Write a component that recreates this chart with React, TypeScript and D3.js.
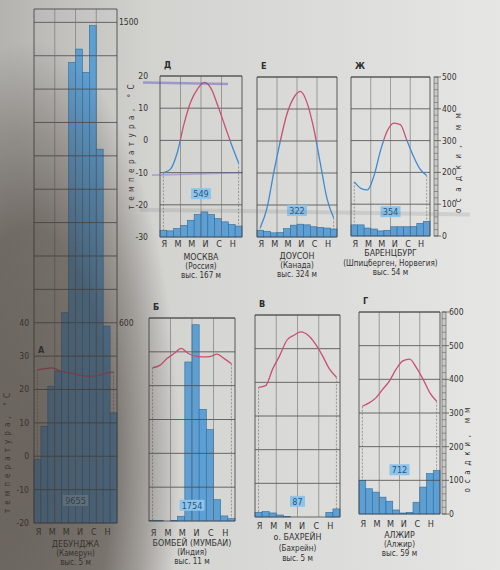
import React, { useEffect, useRef } from 'react';
import * as d3 from 'd3';

// month ticks shown under each diagram (odd months only)
const monthTicks = ['Я', 'М', 'М', 'И', 'С', 'Н'];

// station captions
const letters = ['А', 'Д', 'Е', 'Ж', 'Б', 'В', 'Г'];
const stations = ['ДЕБУНДЖА', 'МОСКВА', 'ДОУСОН', 'БАРЕНЦБУРГ', 'БОМБЕЙ (МУМБАИ)', 'о. БАХРЕЙН', 'АЛЖИР'];
const countries = ['(Камерун)', '(Россия)', '(Канада)', '(Шпицберген, Норвегия)', '(Индия)', '(Бахрейн)', '(Алжир)'];
const heights = ['выс. 5 м', 'выс. 167 м', 'выс. 324 м', 'выс. 54 м', 'выс. 11 м', 'выс. 5 м', 'выс. 59 м'];
const totals = ['9655', '549', '322', '354', '1754', '87', '712'];

// mean monthly temperature, °C
const debTemp = [25.9, 26.2, 26.5, 25.8, 25.2, 24.8, 24.3, 24, 24, 24.3, 25, 25.2];
const mosTemp = [-10, -9, -4, 5, 12, 16, 18, 16, 10.5, 4.5, -1.5, -7];
const dawTemp = [-27, -21, -10, 0, 8.5, 13.5, 15.5, 12, 4, -7, -18, -24];
const barTemp = [-13, -15, -15.5, -11, -3, 3, 5.5, 5, 0, -5, -9, -11];
const bomTemp = [25.3, 26, 28, 29.5, 31, 29.5, 28.7, 28.5, 28.6, 29.3, 28, 26.5];
const bahTemp = [18.5, 19, 24, 28, 32.5, 34, 35, 34, 31.5, 28, 24, 21.5];
const algTemp = [12, 13, 14.5, 17, 19.5, 23, 25.5, 26, 23.5, 20, 16, 13.5];

// monthly precipitation, mm
const debPrecip = [190, 290, 410, 455, 630, 1380, 1420, 1350, 1490, 1120, 590, 330];
const mosPrecip = [21, 19, 26, 36, 52, 70, 78, 70, 57, 47, 39, 34];
const dawPrecip = [21, 18, 13, 14, 26, 37, 40, 38, 32, 30, 28, 25];
const barPrecip = [35, 35, 25, 22, 16, 18, 29, 29, 29, 30, 40, 46];
const bomPrecip = [2, 1, 0, 2, 14, 470, 580, 330, 270, 63, 15, 7];
const bahPrecip = [14, 16, 12, 6, 1, 0, 0, 0, 0, 0, 14, 24];
const algPrecip = [100, 75, 65, 50, 38, 12, 3, 5, 35, 80, 120, 129];

const FONT = "'Liberation Sans Narrow', 'DejaVu Sans Condensed', Arial, sans-serif";
const RED = '#c9506f';
const BLUE = '#3d8bd0';

// page layout of the seven diagrams (photo is slightly tilted, so each has its own box)
const layout = [
  { x0: 34, x1: 117, top: 9, bottom: 523, pTop: 1540, tMin: -20, boxMm: 66, textY: [535, 547, 556, 565] },
  { x0: 160, x1: 242, top: 76, bottom: 237, pTop: 500, tMin: -30, boxMm: 133, textY: [247, 260, 269, 278] },
  { x0: 257, x1: 337, top: 77, bottom: 237, pTop: 500, tMin: -30, boxMm: 81, textY: [247, 259, 268, 277] },
  { x0: 351, x1: 430, top: 77, bottom: 236, pTop: 500, tMin: -30, boxMm: 75, textY: [247, 256, 265.5, 275] },
  { x0: 149, x1: 235, top: 318, bottom: 521, pTop: 600, tMin: -20, boxMm: 45, textY: [536, 546, 555, 564] },
  { x0: 255, x1: 340, top: 315, bottom: 517, pTop: 600, tMin: -20, boxMm: 45, textY: [529, 540, 551, 561] },
  { x0: 359, x1: 440, top: 312, bottom: 514, pTop: 600, tMin: -20, boxMm: 130, textY: [527, 538, 547, 556] },
];

const temps = [debTemp, mosTemp, dawTemp, barTemp, bomTemp, bahTemp, algTemp];
const precips = [debPrecip, mosPrecip, dawPrecip, barPrecip, bomPrecip, bahPrecip, algPrecip];

const App = () => {
  const svgRef = useRef<SVGSVGElement>(null);

  useEffect(() => {
    const svg = d3.select(svgRef.current);
    svg.selectAll('*').remove();
    const W = 500, H = 570;

    const defs = svg.append('defs');
    const paper = defs.append('linearGradient').attr('id', 'paper')
      .attr('x1', 0).attr('x2', 1).attr('y1', 0).attr('y2', 0);
    [[0, '#b4b3b0'], [0.3, '#d2d2cf'], [0.7, '#dddddb'], [1, '#e6e6e4']].forEach(([o, c]) =>
      paper.append('stop').attr('offset', o as number).attr('stop-color', c as string));

    const shade = defs.append('radialGradient').attr('id', 'shade')
      .attr('gradientUnits', 'userSpaceOnUse')
      .attr('cx', 0).attr('cy', 0).attr('r', 1)
      .attr('gradientTransform', 'translate(30,460) scale(150,420)');
    [[0, 0.62], [0.55, 0.56], [0.78, 0.3], [1, 0]].forEach(([o, a]) =>
      shade.append('stop').attr('offset', o).attr('stop-color', '#3a3029').attr('stop-opacity', a));

    svg.append('rect').attr('width', W).attr('height', H).attr('fill', 'url(#paper)');

    layout.forEach((c, k) => {
      const temp = temps[k];
      const precip = precips[k];
      const g = svg.append('g');
      const x = d3.scaleBand<number>().domain(d3.range(12)).range([c.x0, c.x1]);
      const bw = x.bandwidth();
      const cx = (i: number) => (x(i) as number) + bw / 2;
      const p = d3.scaleLinear().domain([0, c.pTop]).range([c.bottom, c.top]);
      const t = d3.scaleLinear().domain([c.tMin, c.tMin + c.pTop / 10]).range([c.bottom, c.top]);

      // precipitation bars
      g.selectAll('rect.bar').data(precip).join('rect')
        .attr('x', (d, i) => x(i) as number)
        .attr('width', bw)
        .attr('y', d => p(Math.min(d, c.pTop)))
        .attr('height', d => c.bottom - p(Math.min(d, c.pTop)))
        .attr('fill', '#5e9fd3')
        .attr('stroke', '#2f6a9c')
        .attr('stroke-width', 0.6);

      // grid: every 100 mm = 10 °C
      g.selectAll('line.h').data(d3.range(0, c.pTop + 1, 100)).join('line')
        .attr('x1', c.x0).attr('x2', c.x1)
        .attr('y1', d => p(d)).attr('y2', d => p(d))
        .attr('stroke', '#4a4a4a').attr('stroke-width', 0.8);
      g.selectAll('line.v').data([0, 3, 6, 9, 12]).join('line')
        .attr('x1', d => (d < 12 ? (x(d) as number) : c.x1))
        .attr('x2', d => (d < 12 ? (x(d) as number) : c.x1))
        .attr('y1', c.top).attr('y2', c.bottom)
        .attr('stroke', d => (d === 0 || d === 12 ? '#4a4a4a' : '#6f6f6f'))
        .attr('stroke-width', d => (d === 0 || d === 12 ? 0.9 : 0.6));
      g.append('line').attr('x1', c.x0).attr('x2', c.x1).attr('y1', c.top).attr('y2', c.top)
        .attr('stroke', '#4a4a4a').attr('stroke-width', 0.9);

      // dashed drop lines at first and last month
      [0, 11].forEach(i => {
        g.append('line')
          .attr('x1', cx(i)).attr('x2', cx(i))
          .attr('y1', t(temp[i])).attr('y2', p(precip[i]))
          .attr('stroke', '#6a6a6a').attr('stroke-width', 0.6)
          .attr('stroke-dasharray', '2,1.5');
      });

      // temperature curve: red above 0 °C, blue below
      const zeroY = Math.max(c.top, Math.min(c.bottom, t(0)));
      defs.append('clipPath').attr('id', `hot${k}`).append('rect')
        .attr('x', c.x0 - 5).attr('width', c.x1 - c.x0 + 10)
        .attr('y', c.top - 10).attr('height', zeroY - c.top + 10);
      defs.append('clipPath').attr('id', `cold${k}`).append('rect')
        .attr('x', c.x0 - 5).attr('width', c.x1 - c.x0 + 10)
        .attr('y', zeroY).attr('height', c.bottom - zeroY + 10);
      const line = d3.line<number>().x((d, i) => cx(i)).y(d => t(d)).curve(d3.curveMonotoneX);
      g.append('path').attr('d', line(temp)).attr('fill', 'none')
        .attr('stroke', RED).attr('stroke-width', 1.3).attr('clip-path', `url(#hot${k})`);
      g.append('path').attr('d', line(temp)).attr('fill', 'none')
        .attr('stroke', BLUE).attr('stroke-width', 1.3).attr('clip-path', `url(#cold${k})`);

      // annual total box
      const mid = (c.x0 + c.x1) / 2;
      const label = totals[k];
      const bwBox = label.length * 5 + 5;
      g.append('rect').attr('x', mid - bwBox / 2).attr('y', p(c.boxMm) - 6)
        .attr('width', bwBox).attr('height', 11).attr('fill', '#8fc4ea');
      g.append('text').attr('x', mid).attr('y', p(c.boxMm) + 3)
        .attr('text-anchor', 'middle').attr('font-size', 9).attr('font-family', FONT)
        .attr('fill', '#24557f').text(label);

      // letter
      g.append('text').attr('x', c.x0 + 4).attr('y', k === 0 ? t(31) : c.top - 8)
        .attr('font-size', 9).attr('font-weight', 'bold').attr('font-family', FONT)
        .attr('fill', '#2b2b2b').text(letters[k]);

      // month ticks and captions
      g.selectAll('text.m').data(monthTicks).join('text')
        .attr('x', (d, i) => cx(i * 2) + 1)
        .attr('y', c.textY[0])
        .attr('text-anchor', 'middle').attr('font-size', 9).attr('font-family', FONT)
        .attr('fill', '#333').text(d => d);
      [stations[k], countries[k], heights[k]].forEach((s, j) => {
        g.append('text').attr('x', mid).attr('y', c.textY[j + 1])
          .attr('text-anchor', 'middle').attr('font-size', j === 0 ? 8.8 : 8).attr('font-family', FONT)
          .attr('fill', '#333').text(s);
      });
    });

    // axes ------------------------------------------------------------
    const txt = (xx: number, yy: number, s: string, anchor = 'start', size = 8.5) =>
      svg.append('text').attr('x', xx).attr('y', yy).attr('text-anchor', anchor)
        .attr('font-size', size).attr('font-family', FONT).attr('fill', '#333').text(s);

    // top row temperature axis (Москва)
    const top = layout[1];
    const tTop = d3.scaleLinear().domain([top.tMin, top.tMin + top.pTop / 10]).range([top.bottom, top.top]);
    d3.range(-30, 21, 10).forEach(v => txt(148, tTop(v) + 3, String(v), 'end'));
    // Дебунджа temperature axis
    const deb = layout[0];
    const tDeb = d3.scaleLinear().domain([deb.tMin, deb.tMin + deb.pTop / 10]).range([deb.bottom, deb.top]);
    const pDeb = d3.scaleLinear().domain([0, deb.pTop]).range([deb.bottom, deb.top]);
    d3.range(-20, 41, 10).forEach(v => txt(29, tDeb(v) + 3, String(v), 'end'));
    [600, 1500].forEach(v => txt(119, pDeb(v) + 3, String(v)));

    // precipitation rulers
    const ruler = (c: typeof layout[number], rx: number, lx: number) => {
      const p = d3.scaleLinear().domain([0, c.pTop]).range([c.bottom, c.top]);
      svg.append('rect').attr('x', rx).attr('y', c.top).attr('width', 4).attr('height', c.bottom - c.top)
        .attr('fill', '#c9c9c6').attr('stroke', '#555').attr('stroke-width', 0.6);
      d3.range(0, c.pTop + 1, 20).forEach(v => {
        const major = v % 100 === 0;
        svg.append('line').attr('x1', rx).attr('x2', rx + (major ? 7 : 4))
          .attr('y1', p(v)).attr('y2', p(v)).attr('stroke', '#555').attr('stroke-width', major ? 0.8 : 0.5);
      });
      d3.range(0, c.pTop + 1, 100).forEach(v => txt(lx, p(v) + 3, String(v)));
    };
    ruler(layout[3], 434, 442);
    ruler(layout[6], 442, 449);

    // rotated axis titles
    const vtitle = (xx: number, yy: number, s: string, len: number) =>
      svg.append('text').attr('transform', `translate(${xx},${yy}) rotate(-90)`)
        .attr('text-anchor', 'middle').attr('font-size', 8).attr('font-family', FONT)
        .attr('fill', '#333').attr('textLength', len).attr('lengthAdjust', 'spacing').text(s);
    vtitle(134, 147, 'температура, °С', 125);
    vtitle(10, 453, 'температура, °С', 120);
    vtitle(461, 163, 'осадки, мм', 100);
    vtitle(470, 450, 'осадки, мм', 85);

    // pen marks on the Москва diagram
    svg.append('line').attr('x1', 143).attr('x2', 228).attr('y1', tTop(18)).attr('y2', tTop(17.5))
      .attr('stroke', '#5b4fc0').attr('stroke-opacity', 0.45).attr('stroke-width', 2.5);
    svg.append('line').attr('x1', 152).attr('x2', 243).attr('y1', tTop(-10.8)).attr('y2', tTop(-10))
      .attr('stroke', '#5b4fc0').attr('stroke-opacity', 0.35).attr('stroke-width', 1.8);
    svg.append('line').attr('x1', 140).attr('x2', 470).attr('y1', tTop(-21.5)).attr('y2', tTop(-23))
      .attr('stroke', '#777').attr('stroke-opacity', 0.18).attr('stroke-width', 4);

    // photo shadow over the left side
    svg.append('rect').attr('width', W).attr('height', H).attr('fill', 'url(#shade)');
  }, []);

  return (
    <svg ref={svgRef} width={500} height={570}
      style={{ position: 'absolute', left: 0, top: 0, display: 'block' }} />
  );
};

export default App;
